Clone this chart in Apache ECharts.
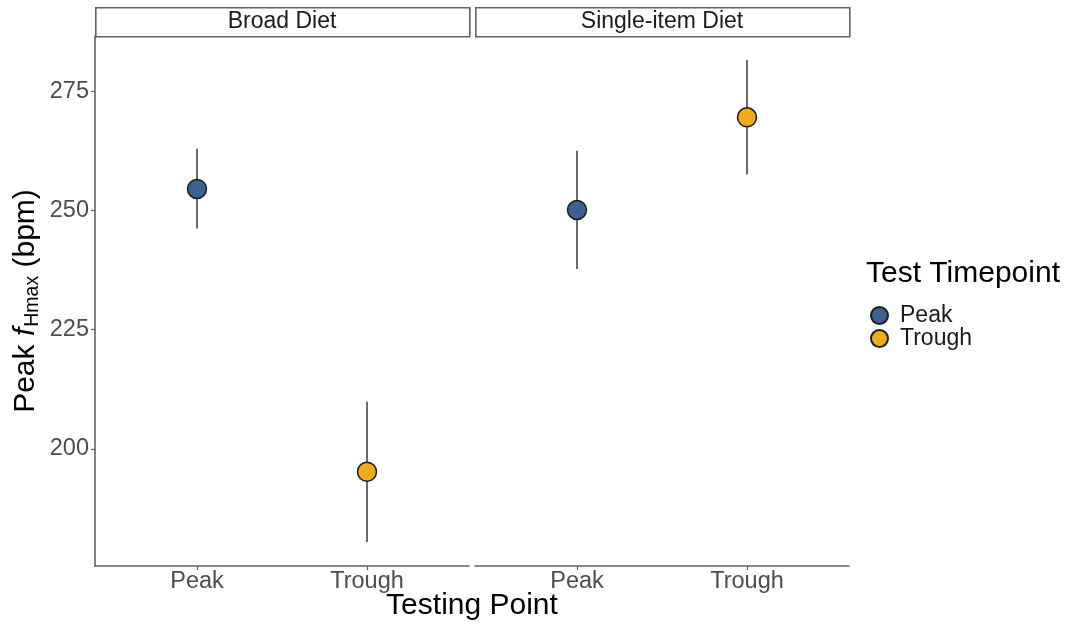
<!DOCTYPE html>
<html>
<head>
<meta charset="utf-8">
<script src="https://cdn.jsdelivr.net/npm/echarts@6/dist/echarts.min.js"></script>
<style>
  html, body { margin: 0; padding: 0; background: #ffffff; }
  #chart { width: 1068px; height: 626px; }
</style>
</head>
<body>
<div id="chart"></div>
<script>
// Facets, x categories and y tick values
const diets = ['Broad Diet', 'Single-item Diet'];
const testPoints = ['Peak', 'Trough'];
const yTicks = [200, 225, 250, 275];

// Peak heart rate (bpm) per diet: mean with lower / upper error limits
const peakMean = [254.5, 250.1];
const peakLow = [246.2, 237.7];
const peakHigh = [262.9, 262.5];
const troughMean = [195.2, 269.5];
const troughLow = [180.5, 257.5];
const troughHigh = [209.9, 281.5];

const FONT = '"Liberation Sans", Arial, Helvetica, sans-serif';
const PEAK_COLOR = '#3b638f';
const TROUGH_COLOR = '#f0ab1b';
const AXIS_COLOR = '#626262';

// y range with 5% padding around the error bars
const allLow = Math.min(...peakLow, ...troughLow);
const allHigh = Math.max(...peakHigh, ...troughHigh);
const pad = (allHigh - allLow) * 0.05;
const yMin = allLow - pad;
const yMax = allHigh + pad;

const panelLeft = [95, 475];
const panelWidth = 374;
const panelTop = 36;
const panelHeight = 530;
const xTickPos = testPoints.map((_, i) => i + 1);

const grids = diets.map((_, d) => ({
  left: panelLeft[d], top: panelTop, width: panelWidth, height: panelHeight
}));

const xAxes = diets.map((_, d) => ({
  type: 'value', gridIndex: d, min: 0.4, max: 2.6,
  splitLine: { show: false },
  axisLine: { show: true, onZero: false, lineStyle: { color: AXIS_COLOR, width: 1.6 } },
  axisTick: { show: true, length: 4, customValues: xTickPos, lineStyle: { color: AXIS_COLOR, width: 1.2 } },
  axisLabel: {
    customValues: xTickPos, margin: 4, fontSize: 23.5, color: '#4d4d4d', fontFamily: FONT,
    formatter: v => testPoints[Math.round(v) - 1]
  }
}));

const yAxes = diets.map((_, d) => {
  const ax = {
    type: 'value', gridIndex: d, min: yMin, max: yMax,
    splitLine: { show: false },
    axisLine: { show: d === 0, onZero: false, lineStyle: { color: AXIS_COLOR, width: 1.6 } },
    axisTick: { show: d === 0, length: 4, customValues: yTicks, lineStyle: { color: AXIS_COLOR, width: 1.2 } },
    axisLabel: { show: d === 0, customValues: yTicks, margin: 6, fontSize: 23.5, color: '#4d4d4d', fontFamily: FONT }
  };
  if (d === 0) {
    ax.name = '{a|Peak }{f|f}{s|Hmax}{a| (bpm)}';
    ax.nameLocation = 'middle';
    ax.nameGap = 52;
    ax.nameTextStyle = {
      fontFamily: FONT, color: '#000000',
      rich: {
        a: { fontSize: 30, fontFamily: FONT, color: '#000000' },
        f: { fontSize: 30, fontFamily: FONT, fontStyle: 'italic', color: '#000000' },
        s: { fontSize: 19.5, fontFamily: FONT, color: '#000000', padding: [14, 0, 0, 1] }
      }
    };
  }
  return ax;
});

const series = [];
diets.forEach((_, d) => {
  // vertical error bars
  series.push({
    type: 'custom', name: 'errorbars', xAxisIndex: d, yAxisIndex: d, silent: true,
    encode: { x: 0, y: [1, 2] },
    data: [[1, peakLow[d], peakHigh[d]], [2, troughLow[d], troughHigh[d]]],
    renderItem: (params, api) => {
      const x = api.value(0);
      const p1 = api.coord([x, api.value(1)]);
      const p2 = api.coord([x, api.value(2)]);
      return {
        type: 'line',
        shape: { x1: p1[0], y1: p1[1], x2: p2[0], y2: p2[1] },
        style: { stroke: '#6a6a6a', lineWidth: 2 }
      };
    },
    z: 2
  });
  series.push({
    type: 'scatter', name: 'Peak', xAxisIndex: d, yAxisIndex: d,
    symbol: 'circle', symbolSize: 19,
    itemStyle: { color: PEAK_COLOR, borderColor: '#1c1c1c', borderWidth: 1.5, opacity: 1 },
    data: [[1, peakMean[d]]], z: 3
  });
  series.push({
    type: 'scatter', name: 'Trough', xAxisIndex: d, yAxisIndex: d,
    symbol: 'circle', symbolSize: 19,
    itemStyle: { color: TROUGH_COLOR, borderColor: '#1c1c1c', borderWidth: 1.5, opacity: 1 },
    data: [[2, troughMean[d]]], z: 3
  });
});

// facet strips, x title and legend title
const graphics = [];
diets.forEach((name, d) => {
  graphics.push({
    type: 'rect', left: panelLeft[d], top: 7,
    shape: { x: 0, y: 0, width: panelWidth, height: 29 },
    style: { fill: '#ffffff', stroke: AXIS_COLOR, lineWidth: 1.6 }
  });
  graphics.push({
    type: 'text', x: panelLeft[d] + panelWidth / 2, y: 22,
    style: { text: name, fontSize: 23, fontFamily: FONT, fill: '#1a1a1a', align: 'center', verticalAlign: 'middle' }
  });
});
graphics.push({
  type: 'text', x: (panelLeft[0] + panelLeft[1] + panelWidth) / 2, y: 606,
  style: { text: 'Testing Point', fontSize: 30, fontFamily: FONT, fill: '#000000', align: 'center', verticalAlign: 'middle' }
});
graphics.push({
  type: 'text', x: 866, y: 274,
  style: { text: 'Test Timepoint', fontSize: 30, fontFamily: FONT, fill: '#000000', align: 'left', verticalAlign: 'middle' }
});

const chart = echarts.init(document.getElementById('chart'), null, { renderer: 'canvas' });
chart.setOption({
  animation: false,
  backgroundColor: '#ffffff',
  grid: grids,
  xAxis: xAxes,
  yAxis: yAxes,
  series: series,
  graphic: graphics,
  legend: {
    data: testPoints, orient: 'vertical', left: 865, top: 299,
    itemWidth: 17, itemHeight: 17, itemGap: 0, selectedMode: false,
    textStyle: { fontSize: 23, fontFamily: FONT, color: '#1a1a1a', lineHeight: 23, padding: [0, 0, 0, 7] }
  }
});
</script>
</body>
</html>
